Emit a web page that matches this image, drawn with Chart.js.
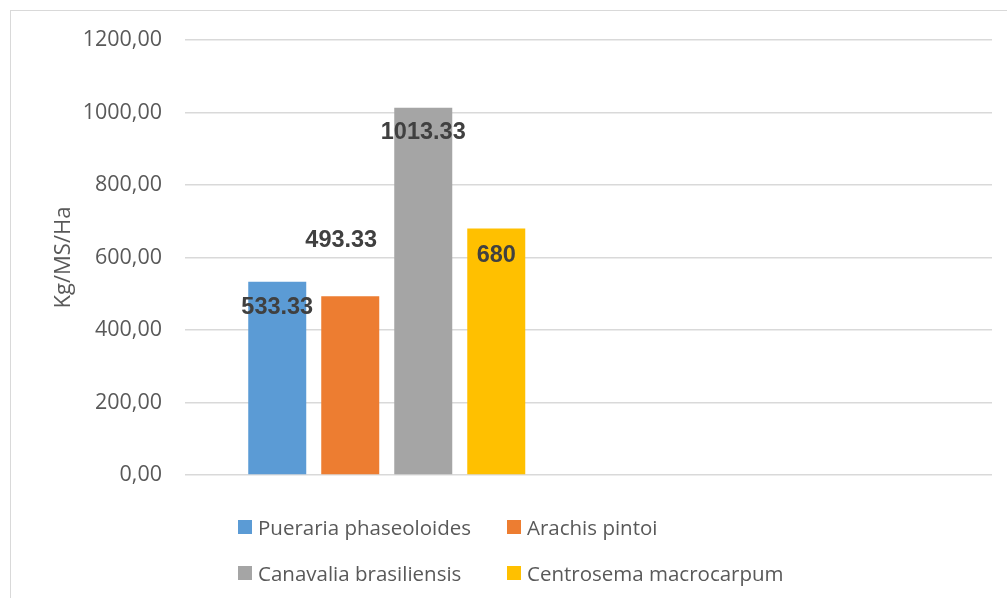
<!DOCTYPE html>
<html>
<head>
<meta charset="utf-8">
<script src="https://cdn.jsdelivr.net/npm/chart.js@4/dist/chart.umd.min.js"></script>
<style>
  html, body { margin: 0; padding: 0; background: #fff; }
  #wrap { position: relative; width: 1007px; height: 598px; overflow: hidden; }
  #frame { position: absolute; left: 10px; top: 10px; width: 1020px; height: 620px; border: 1px solid #d9d9d9; }
  canvas { position: absolute; left: 0; top: 0; }
  #legend { position: absolute; left: 238px; top: 511px; display: grid; grid-template-columns: 269px auto; row-gap: 14px;
            font-family: "Open Sans", sans-serif; font-size: 20.5px; color: #595959; }
  .item { display: flex; align-items: center; height: 32px; }
  .box { width: 14px; height: 14px; margin-right: 6px; }
</style>
</head>
<body>
<div id="wrap">
  <div id="frame"></div>
  <canvas id="chart" width="1007" height="598"></canvas>
  <div id="legend"></div>
</div>
<script>
const categories = ["", ""];
const seriesNames = ["Pueraria phaseoloides", "Arachis pintoi", "Canavalia brasiliensis", "Centrosema macrocarpum"];
const seriesValues = [
  [533.33, null],
  [493.33, null],
  [1013.33, null],
  [680, null]
];
const valueLabels = ["533.33", "493.33", "1013.33", "680"];
const colors = ["#5B9BD5", "#ED7D31", "#A5A5A5", "#FFC000"];
// label offsets relative to bar top (Excel labels were moved by hand)
const labelOffsets = [[0, 26], [-9, -56], [0, 25], [0, 27]];

const labelPlugin = {
  id: "barLabels",
  afterDatasetsDraw(chart) {
    const ctx = chart.ctx;
    ctx.save();
    ctx.font = "bold 23.5px 'Liberation Sans', Arial, sans-serif";
    ctx.fillStyle = "#404040";
    ctx.textAlign = "center";
    ctx.textBaseline = "middle";
    chart.data.datasets.forEach((ds, i) => {
      const bar = chart.getDatasetMeta(i).data[0];
      const [dx, dy] = labelOffsets[i];
      ctx.fillText(valueLabels[i], bar.x + dx, bar.y + dy);
    });
    ctx.restore();
  }
};

const chart = new Chart(document.getElementById("chart"), {
  type: "bar",
  data: {
    labels: categories,
    datasets: seriesNames.map((name, i) => ({
      label: name,
      data: seriesValues[i],
      backgroundColor: colors[i],
      categoryPercentage: 0.7237,
      barPercentage: 0.7945
    }))
  },
  options: {
    responsive: false,
    animation: false,
    layout: { padding: { left: 51, right: 15, top: 40, bottom: 123 } },
    plugins: { legend: { display: false }, tooltip: { enabled: false } },
    scales: {
      x: {
        ticks: { display: false },
        grid: { display: false },
        border: { display: false },
        afterFit(scale) { scale.height = 0; }
      },
      y: {
        min: 0,
        max: 1200,
        ticks: {
          stepSize: 200,
          padding: 23,
          color: "#595959",
          font: { family: "Open Sans", size: 21.5 },
          callback: (v) => v.toFixed(2).replace(".", ",")
        },
        grid: { color: "#d9d9d9", lineWidth: 1.5, drawTicks: false },
        border: { display: false },
        title: {
          display: true,
          text: "Kg/MS/Ha",
          color: "#595959",
          font: { family: "Open Sans", size: 22 },
          padding: { top: 0, bottom: 0 }
        },
        afterFit(scale) { scale.width = 134; }
      }
    }
  },
  plugins: [labelPlugin]
});

document.getElementById("legend").innerHTML = seriesNames
  .map((name, i) => `<div class="item"><span class="box" style="background:${colors[i]}"></span>${name}</div>`)
  .join("");
</script>
</body>
</html>
